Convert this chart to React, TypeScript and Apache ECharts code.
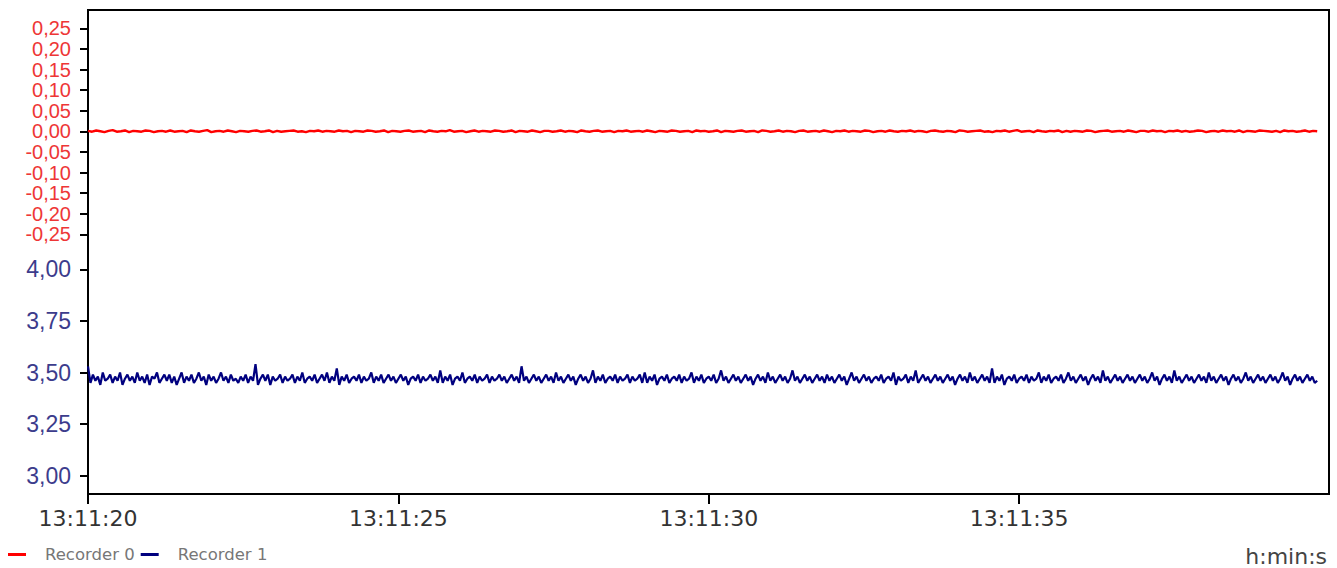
import React, { useEffect, useRef } from "react";
import * as echarts from "echarts";

// time axis (seconds after 13:11:00)
const timeStart = 20;
const timeEnd = 39.8;
const xTickSeconds = [20, 25, 30, 35];

// red axis ticks are drawn as two interleaved sets (step 0.10 each)
const redTicksOdd = { min: -0.25, max: 0.25, step: 0.1 }; // ±0.25, ±0.15, ±0.05
const redTicksEven = { min: -0.2, max: 0.2, step: 0.1 }; // ±0.20, ±0.10, 0
const blueTicks = { min: 3, max: 4, step: 0.25 };

// Recorder 0 (red, scale -0.25 .. 0.25)
const recorder0 = [
  0.001, -0.001, 0.002, 0, -0.002, 0.001, 0.003, -0.001, 0, 0.002, -0.002, 0.001, 0, -0.001, 0.002, 0.001, -0.002, 0, 0.001, -0.001,
  0.002, -0.001, 0, 0.001, -0.002, 0.002, 0, -0.001, 0.001, 0.003, -0.002, 0, 0.001, -0.001, 0.002, 0, -0.002, 0.001, 0, -0.001,
  0.001, 0.002, -0.001, 0, 0.002, -0.002, 0.001, -0.001, 0, 0.001, 0.002, -0.001, 0, -0.002, 0.001, 0, 0.002, -0.001, 0.001, 0,
  -0.001, 0.002, 0, 0.001, -0.002, 0.001, 0, -0.001, 0.002, 0.001, -0.001, 0, 0.002, -0.002, 0.001, 0, -0.001, 0.001, 0.002, -0.001,
  0, 0.001, -0.002, 0.002, 0, -0.001, 0.001, 0, 0.003, -0.001, 0, 0.001, -0.002, 0, 0.002, -0.001, 0.001, 0, -0.001, 0.002,
  0.001, -0.001, 0, 0.002, -0.002, 0.001, 0, -0.001, 0.002, 0, -0.002, 0.001, 0.001, -0.001, 0, 0.002, -0.001, 0.001, 0, -0.002,
  0.002, 0, -0.001, 0.001, 0.002, -0.001, 0, 0.001, -0.002, 0.001, 0, 0.002, -0.001, 0, 0.001, -0.001, 0.002, 0, -0.002, 0.001,
  0, -0.001, 0.002, 0.001, -0.001, 0, 0.001, -0.002, 0.002, 0, 0.001, -0.001, 0, 0.002, -0.002, 0.001, 0, -0.001, 0.001, 0.002,
  -0.001, 0, 0.001, -0.002, 0.002, 0.001, -0.001, 0, 0.002, -0.001, 0.001, 0, -0.002, 0.001, 0.002, -0.001, 0, 0.001, -0.001, 0.002,
  0, -0.002, 0.001, 0, 0.002, -0.001, 0.001, 0, -0.001, 0.002, 0.001, -0.002, 0, 0.001, -0.001, 0.002, 0, -0.001, 0.001, 0,
  0.002, -0.001, 0.001, 0, -0.002, 0.001, 0.002, 0, -0.001, 0.001, 0, -0.002, 0.002, 0.001, -0.001, 0, 0.001, 0.002, -0.001, 0,
  -0.002, 0.001, 0, 0.002, -0.001, 0.001, 0.003, -0.001, 0, 0.001, -0.002, 0.002, 0, -0.001, 0.001, 0, 0.002, -0.002, 0.001, -0.001,
  0.001, 0, -0.001, 0.002, 0.001, -0.002, 0, 0.001, 0.002, -0.001, 0, 0.001, -0.001, 0.002, 0, -0.002, 0.001, 0.001, -0.001, 0.002,
  0, 0.001, -0.002, 0.001, 0, 0.002, -0.001, 0.001, -0.001, 0, 0.002, 0.001, -0.002, 0, 0.001, -0.001, 0.002, 0, 0.001, -0.001,
  0.002, -0.002, 0.001, 0, -0.001, 0.002, 0.001, 0, -0.001, 0.001, -0.002, 0.002, 0, 0.001, -0.001, 0, 0.002, -0.001, 0.001, 0,
];

// Recorder 1 (navy, scale 3.00 .. 4.00)
const recorder1 = [
  3.53, 3.45, 3.49, 3.46, 3.48, 3.44, 3.50, 3.46, 3.47, 3.49, 3.45, 3.48, 3.46, 3.50, 3.44, 3.47, 3.49, 3.46, 3.48, 3.45,
  3.50, 3.46, 3.48, 3.45, 3.49, 3.44, 3.48, 3.47, 3.50, 3.45, 3.47, 3.49, 3.46, 3.49, 3.45, 3.48, 3.44, 3.47, 3.50, 3.45,
  3.48, 3.46, 3.49, 3.45, 3.47, 3.50, 3.46, 3.48, 3.44, 3.49, 3.46, 3.48, 3.45, 3.47, 3.50, 3.46, 3.48, 3.45, 3.49, 3.46,
  3.47, 3.45, 3.48, 3.46, 3.49, 3.45, 3.48, 3.46, 3.54, 3.44, 3.47, 3.49, 3.46, 3.49, 3.44, 3.48, 3.46, 3.47, 3.49, 3.45,
  3.48, 3.46, 3.47, 3.49, 3.45, 3.48, 3.46, 3.50, 3.45, 3.47, 3.48, 3.46, 3.49, 3.45, 3.47, 3.49, 3.46, 3.50, 3.45, 3.48,
  3.46, 3.52, 3.44, 3.48, 3.46, 3.49, 3.45, 3.47, 3.48, 3.46, 3.49, 3.45, 3.48, 3.46, 3.47, 3.50, 3.45, 3.48, 3.46, 3.49,
  3.45, 3.47, 3.49, 3.46, 3.48, 3.45, 3.47, 3.49, 3.46, 3.48, 3.44, 3.47, 3.48, 3.46, 3.49, 3.45, 3.48, 3.46, 3.47, 3.49,
  3.46, 3.48, 3.45, 3.51, 3.45, 3.48, 3.46, 3.49, 3.44, 3.47, 3.48, 3.46, 3.50, 3.45, 3.47, 3.48, 3.46, 3.49, 3.45, 3.48,
  3.46, 3.47, 3.49, 3.45, 3.48, 3.46, 3.47, 3.49, 3.46, 3.48, 3.45, 3.47, 3.49, 3.46, 3.48, 3.45, 3.53, 3.46, 3.48, 3.45,
  3.47, 3.49, 3.46, 3.48, 3.45, 3.47, 3.49, 3.46, 3.48, 3.45, 3.50, 3.46, 3.48, 3.45, 3.47, 3.49, 3.46, 3.48, 3.44, 3.47,
  3.49, 3.46, 3.48, 3.45, 3.47, 3.51, 3.45, 3.48, 3.46, 3.49, 3.45, 3.47, 3.48, 3.46, 3.49, 3.45, 3.48, 3.46, 3.47, 3.49,
  3.45, 3.48, 3.46, 3.47, 3.49, 3.45, 3.50, 3.45, 3.48, 3.46, 3.49, 3.44, 3.47, 3.48, 3.46, 3.49, 3.45, 3.47, 3.48, 3.46,
  3.49, 3.45, 3.48, 3.46, 3.47, 3.50, 3.45, 3.48, 3.46, 3.49, 3.45, 3.47, 3.48, 3.46, 3.49, 3.45, 3.47, 3.51, 3.46, 3.48,
  3.45, 3.47, 3.49, 3.46, 3.48, 3.45, 3.47, 3.49, 3.46, 3.48, 3.44, 3.47, 3.49, 3.46, 3.48, 3.45, 3.50, 3.46, 3.48, 3.45,
  3.47, 3.49, 3.46, 3.48, 3.45, 3.47, 3.51, 3.46, 3.48, 3.45, 3.47, 3.49, 3.46, 3.48, 3.45, 3.47, 3.49, 3.46, 3.48, 3.45,
  3.49, 3.46, 3.48, 3.45, 3.47, 3.49, 3.46, 3.48, 3.44, 3.47, 3.50, 3.46, 3.48, 3.45, 3.47, 3.49, 3.46, 3.48, 3.45, 3.47,
  3.48, 3.46, 3.49, 3.45, 3.47, 3.48, 3.46, 3.50, 3.44, 3.48, 3.46, 3.47, 3.49, 3.45, 3.48, 3.46, 3.51, 3.45, 3.47, 3.49,
  3.46, 3.48, 3.45, 3.47, 3.49, 3.46, 3.48, 3.45, 3.47, 3.49, 3.46, 3.48, 3.44, 3.47, 3.49, 3.46, 3.48, 3.45, 3.50, 3.46,
  3.48, 3.45, 3.47, 3.49, 3.46, 3.48, 3.45, 3.52, 3.45, 3.48, 3.46, 3.49, 3.44, 3.47, 3.48, 3.46, 3.49, 3.45, 3.47, 3.48,
  3.46, 3.49, 3.45, 3.48, 3.46, 3.47, 3.50, 3.45, 3.48, 3.46, 3.49, 3.45, 3.47, 3.48, 3.46, 3.49, 3.45, 3.47, 3.50, 3.46,
  3.48, 3.45, 3.47, 3.49, 3.46, 3.48, 3.44, 3.47, 3.49, 3.46, 3.48, 3.45, 3.51, 3.46, 3.48, 3.45, 3.47, 3.49, 3.46, 3.48,
  3.45, 3.47, 3.49, 3.46, 3.48, 3.45, 3.47, 3.49, 3.46, 3.48, 3.45, 3.47, 3.50, 3.46, 3.48, 3.44, 3.47, 3.49, 3.46, 3.48,
  3.45, 3.51, 3.46, 3.48, 3.45, 3.47, 3.49, 3.46, 3.48, 3.45, 3.47, 3.49, 3.46, 3.48, 3.45, 3.50, 3.46, 3.48, 3.45, 3.47,
  3.49, 3.46, 3.48, 3.44, 3.47, 3.49, 3.46, 3.48, 3.45, 3.47, 3.50, 3.46, 3.48, 3.45, 3.47, 3.49, 3.46, 3.48, 3.45, 3.47,
  3.49, 3.46, 3.48, 3.45, 3.47, 3.50, 3.46, 3.48, 3.44, 3.47, 3.49, 3.46, 3.48, 3.45, 3.47, 3.49, 3.46, 3.48, 3.45, 3.46,
];

const seriesNames = ["Recorder 0", "Recorder 1"];
const xUnitLabel = "h:min:s";

const toPairs = (vals: number[]) =>
  vals.map((v, i) => [timeStart + (i * (timeEnd - timeStart)) / (vals.length - 1), v]);

const commaFmt = (v: number) => {
  const r = Math.round(v * 100) / 100;
  return (Math.abs(r) < 1e-9 ? 0 : r).toFixed(2).replace(".", ",");
};

export default function App() {
  const ref = useRef<HTMLDivElement>(null);
  useEffect(() => {
    if (!ref.current) return;
    const chart = echarts.init(ref.current, undefined, { renderer: "svg" });
    const L = 88;
    const W = 1241;
    // pixel layout of the red scale: 0.25 at y=28.3, -0.25 at y=234.3
    const redTop = 28.3;
    const redPxPerUnit = 206 / 0.5;
    const hiddenX = (gi: number) => ({
      type: "value",
      gridIndex: gi,
      min: 20,
      max: 39.99,
      show: false,
    });
    const tickStyle = { show: true, length: 8, lineStyle: { color: "#000", width: 2 } };
    const redLabel = {
      margin: 17,
      color: "#ee3636",
      fontSize: 20,
      lineHeight: 19,
      fontFamily: "Liberation Sans",
      showMinLabel: true,
      showMaxLabel: true,
      formatter: (v: number) => commaFmt(v),
    };
    chart.setOption({
      animation: false,
      backgroundColor: "#ffffff",
      grid: [
        { left: L, top: 10, width: W, height: 484, show: true, borderColor: "#000", borderWidth: 2, backgroundColor: "transparent" },
        { left: L, top: redTop, width: W, height: 206 },
        { left: L, top: redTop + 0.05 * redPxPerUnit, width: W, height: 0.4 * redPxPerUnit },
        { left: L, top: 269.3, width: W, height: 206.4 },
      ],
      xAxis: [
        {
          type: "value",
          gridIndex: 0,
          min: 20,
          max: 39.99,
          interval: 5,
          axisLine: { show: true, lineStyle: { color: "#000", width: 2 } },
          axisTick: { show: true, length: 10, lineStyle: { color: "#000", width: 2 } },
          splitLine: { show: false },
          axisLabel: {
            margin: 13,
            color: "#333",
            fontSize: 22,
            fontFamily: "DejaVu Sans",
            showMaxLabel: false,
            formatter: (v: number) => (xTickSeconds.includes(v) ? "13:11:" + String(v).padStart(2, "0") : ""),
          },
        },
        hiddenX(1),
        hiddenX(2),
        hiddenX(3),
      ],
      yAxis: [
        { type: "value", gridIndex: 0, show: false, min: 0, max: 1 },
        {
          type: "value",
          gridIndex: 1,
          min: redTicksOdd.min,
          max: redTicksOdd.max,
          interval: redTicksOdd.step,
          axisLine: { show: false },
          axisTick: tickStyle,
          splitLine: { show: false },
          axisLabel: redLabel,
        },
        {
          type: "value",
          gridIndex: 2,
          min: redTicksEven.min,
          max: redTicksEven.max,
          interval: redTicksEven.step,
          axisLine: { show: false },
          axisTick: tickStyle,
          splitLine: { show: false },
          axisLabel: redLabel,
        },
        {
          type: "value",
          gridIndex: 3,
          min: blueTicks.min,
          max: blueTicks.max,
          interval: blueTicks.step,
          axisLine: { show: false },
          axisTick: tickStyle,
          splitLine: { show: false },
          axisLabel: {
            margin: 17,
            color: "#3c3c8c",
            fontSize: 23,
            fontFamily: "Liberation Sans",
            showMinLabel: true,
            showMaxLabel: true,
            formatter: (v: number) => commaFmt(v),
          },
        },
      ],
      legend: {
        left: 8,
        top: 546,
        itemWidth: 18,
        itemHeight: 3,
        itemGap: 6,
        icon: "rect",
        padding: 0,
        textStyle: { color: "#777", fontSize: 16.5, fontFamily: "DejaVu Sans", padding: [0, 0, 0, 14] },
        data: seriesNames,
      },
      graphic: [
        {
          type: "text",
          right: 10,
          top: 545,
          style: { text: xUnitLabel, fill: "#444", fontSize: 22, fontFamily: "DejaVu Sans" },
        },
      ],
      series: [
        {
          name: seriesNames[0],
          type: "line",
          xAxisIndex: 1,
          yAxisIndex: 1,
          data: toPairs(recorder0),
          showSymbol: false,
          symbol: "none",
          itemStyle: { color: "#ff0000" },
          lineStyle: { color: "#ff0000", width: 2.4 },
        },
        {
          name: seriesNames[1],
          type: "line",
          xAxisIndex: 3,
          yAxisIndex: 3,
          data: toPairs(recorder1),
          showSymbol: false,
          symbol: "none",
          itemStyle: { color: "#00007f" },
          lineStyle: { color: "#00007f", width: 2.2 },
        },
      ],
    });
    return () => chart.dispose();
  }, []);
  return <div ref={ref} style={{ width: 1337, height: 568, position: "absolute", left: 0, top: 0 }} />;
}
